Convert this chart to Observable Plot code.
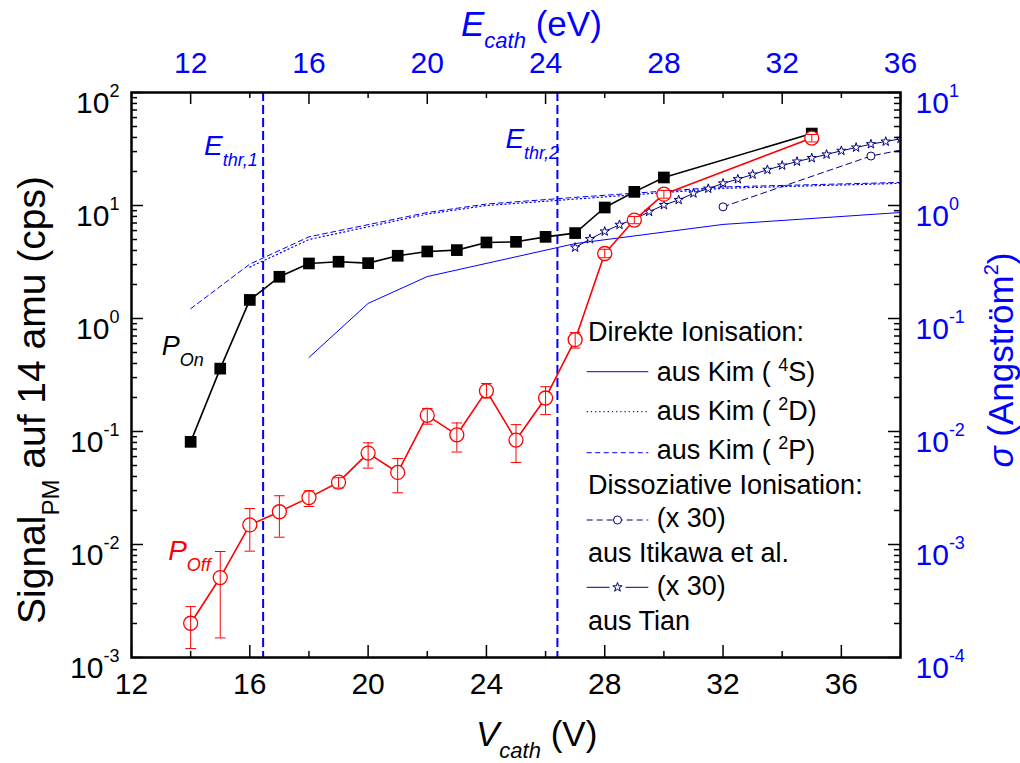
<!DOCTYPE html>
<html><head><meta charset="utf-8">
<script src="https://cdn.jsdelivr.net/npm/d3@7"></script>
<script src="https://cdn.jsdelivr.net/npm/@observablehq/plot@0.6"></script>
<style>
html,body{margin:0;padding:0;background:#fff;overflow:hidden;}
#chart svg{display:block;}
</style></head><body><div id="chart"></div>
<script>
// ---------- data ----------
const vOn   = [14,15,16,17,18,19,20,21,22,23,24,25,26,27,28,29,30,35];
const pOn   = [0.081,0.36,1.46,2.34,3.07,3.18,3.09,3.59,3.92,4.03,4.71,4.77,5.28,5.70,9.6,13.2,17.7,43.3];
const vOff  = [14,15,16,17,18,19,20,21,22,23,24,25,26,27,28,29,30,35];
const pOff  = [0.00201,0.0051,0.0149,0.0195,0.026,0.0356,0.0644,0.0434,0.139,0.0935,0.229,0.084,0.198,0.65,3.76,7.43,12.6,39.5];
const pOffLo= [0.0012,0.00149,0.00873,0.0116,0.0217,0.0316,0.0474,0.0287,0.116,0.0658,0.198,0.0532,0.141,0.547,3.45,6.9,11.6,36.5];
const pOffHi= [0.00282,0.00867,0.0208,0.027,0.0299,0.039,0.0794,0.0577,0.16,0.119,0.266,0.115,0.249,0.75,4.1,8.0,13.6,42.5];

// cross sections (Angström^2) vs electron energy E_cath (eV)
const eKim4S = [16,18,20,25,30,36];
const sKim4S = [0.0452,0.136,0.235,0.46,0.68,0.867];
const eKim2D = [14,16,20,22,25,30,36];
const sKim2D = [0.285,0.50,0.84,1.0,1.14,1.42,1.57];
const eKim2P = [12,14,16,20,22,25,30,36];
const sKim2P = [0.122,0.303,0.528,0.867,1.03,1.18,1.46,1.60];
const eItik  = [30,35,40];
const sItik  = [0.973,2.74,5.0];          // x 30
const eTian  = [25,25.5,26,26.5,27,27.5,28,28.5,29,29.5,30,30.5,31,31.5,32,32.5,33,33.5,34,34.5,35,35.5,36];
const sTian  = [0.425,0.504,0.589,0.675,0.758,0.880,1.01,1.12,1.28,1.41,1.57,1.71,1.88,2.07,2.26,2.45,2.63,2.83,3.05,3.26,3.49,3.68,3.89]; // x 30
const eThr   = [14.45, 24.4];

const xMajor = [12,16,20,24,28,32,36];
const xMinor = [14,18,22,26,30,34,38];
const eMajor = [12,16,20,24,28,32,36];
const eMinor = [10,14,18,22,26,30,34];
const yMajor = [1e-3,1e-2,1e-1,1,10,100];
const yMinor = [2e-3,3e-3,4e-3,5e-3,6e-3,7e-3,8e-3,9e-3,2e-2,3e-2,4e-2,5e-2,6e-2,7e-2,8e-2,9e-2,
                0.2,0.3,0.4,0.5,0.6,0.7,0.8,0.9,2,3,4,5,6,7,8,9,20,30,40,50,60,70,80,90];

// ---------- helpers ----------
const eOffset = 2;                 // V_cath = E_cath + 2
const sigmaFactor = 10;            // left scale = sigma * 10
const toV = e => e + eOffset;
const toLeft = s => s * sigmaFactor;

const on  = vOn.map((v,i)=>({v, p:pOn[i]}));
const off = vOff.map((v,i)=>({v, p:pOff[i], lo:pOffLo[i], hi:pOffHi[i]}));
const mk = (es, ss) => es.map((e,i)=>({v:toV(e), s:toLeft(ss[i])}));
const kim4S = mk(eKim4S,sKim4S), kim2D = mk(eKim2D,sKim2D), kim2P = mk(eKim2P,sKim2P);
const itik = mk(eItik,sItik), tian = mk(eTian,sTian);

const BLUE = "#0000ff", NAVY = "#00007f", RED = "#ff0000";
const W=1020, H=763, mL=131, mR=120, mT=92, mB=106;
const fH = H-mT-mB, fW = W-mL-mR;
const capSym = {draw(ctx,size){const r=Math.sqrt(size/Math.PI); ctx.moveTo(-r,0); ctx.lineTo(r,0);}};
const FONT = "'Liberation Sans', Arial, Helvetica, sans-serif";

const svg = Plot.plot({
  width:W, height:H, marginLeft:mL, marginRight:mR, marginTop:mT, marginBottom:mB,
  style:{fontFamily:FONT, fontSize:"30px", background:"white", color:"black", overflow:"visible"},
  x:{domain:[12,38]},
  y:{type:"log", domain:[1e-3,1e2]},
  marks:[
    Plot.ruleX(eThr, {x:toV, stroke:BLUE, strokeWidth:2, strokeDasharray:"9,4"}),
    Plot.line(kim4S, {x:"v", y:"s", stroke:BLUE, strokeWidth:1, clip:true}),
    Plot.line(kim2D, {x:"v", y:"s", stroke:BLUE, strokeWidth:1.2, strokeDasharray:"1.2,3", clip:true}),
    Plot.line(kim2P, {x:"v", y:"s", stroke:BLUE, strokeWidth:1, strokeDasharray:"5,3.5", clip:true}),
    Plot.line(itik, {x:"v", y:"s", stroke:NAVY, strokeWidth:1, strokeDasharray:"6,4", clip:true}),
    Plot.dot(itik, {x:"v", y:"s", r:4, stroke:NAVY, strokeWidth:1, fill:"white", clip:true}),
    Plot.line(tian, {x:"v", y:"s", stroke:NAVY, strokeWidth:1, clip:true}),
    Plot.dot(tian, {x:"v", y:"s", symbol:"star", r:2.9, stroke:NAVY, strokeWidth:1, fill:"white", clip:true}),
    Plot.line(on, {x:"v", y:"p", stroke:"black", strokeWidth:1.6}),
    Plot.dot(on, {x:"v", y:"p", symbol:"square", r:6.6, fill:"black", stroke:"none"}),
    Plot.line(off, {x:"v", y:"p", stroke:RED, strokeWidth:1.6}),
    Plot.dot(off, {x:"v", y:"p", r:7, stroke:RED, strokeWidth:1.3, fill:"white"}),
    Plot.ruleX(off, {x:"v", y1:"lo", y2:"hi", stroke:RED, strokeWidth:1}),
    Plot.dot(off, {x:"v", y:"lo", symbol:capSym, r:5.3, stroke:RED, strokeWidth:1, fill:"none"}),
    Plot.dot(off, {x:"v", y:"hi", symbol:capSym, r:5.3, stroke:RED, strokeWidth:1, fill:"none"}),
    // inward ticks
    Plot.tickX(xMajor, {x:d=>d, insetTop:fH-12, stroke:"black", strokeWidth:1.5}),
    Plot.tickX(xMinor, {x:d=>d, insetTop:fH-6, stroke:"black", strokeWidth:1.5}),
    Plot.tickX(eMajor, {x:toV, insetBottom:fH-12, stroke:"black", strokeWidth:1.5}),
    Plot.tickX(eMinor, {x:toV, insetBottom:fH-6, stroke:"black", strokeWidth:1.5}),
    Plot.tickY(yMajor, {y:d=>d, insetRight:fW-12, stroke:"black", strokeWidth:1.5}),
    Plot.tickY(yMinor, {y:d=>d, insetRight:fW-6, stroke:"black", strokeWidth:1.5}),
    Plot.tickY(yMajor, {y:d=>d, insetLeft:fW-12, stroke:"black", strokeWidth:1.5}),
    Plot.tickY(yMinor, {y:d=>d, insetLeft:fW-6, stroke:"black", strokeWidth:1.5}),
    // axis labels
    Plot.axisX({anchor:"bottom", ticks:xMajor, tickSize:0, tickPadding:15, label:null, fontSize:30}),
    Plot.axisX({anchor:"top", ticks:eMajor.map(toV), tickFormat:v=>String(v-eOffset), tickSize:0, tickPadding:20, label:null, fontSize:30, fill:BLUE}),
    Plot.axisY({anchor:"left", ticks:yMajor, tickSize:0, tickPadding:12, label:null, fontSize:30,
                tickFormat:d=>"10^"+Math.round(Math.log10(d))}),
    Plot.axisY({anchor:"right", ticks:yMajor, tickSize:0, tickPadding:15, label:null, fontSize:30, fill:BLUE,
                tickFormat:d=>"10^"+(Math.round(Math.log10(d))-Math.log10(sigmaFactor))}),
    Plot.frame({stroke:"black", strokeWidth:2.5})
  ]
});
document.getElementById("chart").appendChild(svg);

const S = d3.select(svg);
// superscripts on log tick labels
S.selectAll("text").each(function(){
  const m = /^10\^(-?\d+)$/.exec(this.textContent);
  if(!m) return;
  this.textContent = "";
  const t = d3.select(this);
  t.attr("dy", null).attr("transform", (t.attr("transform")||"") + " translate(0,11)");
  t.append("tspan").text("10");
  t.append("tspan").attr("dy", -16.5).attr("font-size", 18).text(m[1]);
});

const X = v => svg.scale("x").apply(v);

function rich(g, {x, y, size, fill="black", anchor="start", rotate=0}, parts){
  const t = g.append("text").attr("x",x).attr("y",y).attr("font-size",size)
    .attr("fill",fill).attr("text-anchor",anchor).attr("font-family",FONT);
  if(rotate) t.attr("transform",`rotate(${rotate},${x},${y})`);
  let shift = 0;
  for(const p of parts){
    const target = p.shift || 0;
    const ts = t.append("tspan").attr("dy", target-shift).text(p.t);
    if(p.size) ts.attr("font-size", p.size);
    if(p.i) ts.attr("font-style","italic");
    shift = target;
  }
  return t;
}
const G = S.append("g");

// axis titles
rich(G, {x:476, y:746, size:35}, [{t:"V",i:1},{t:"cath",i:1,size:22,shift:12},{t:" (V)"}]);
rich(G, {x:461, y:36, size:35, fill:BLUE}, [{t:"E",i:1},{t:"cath",i:1,size:22,shift:12},{t:" (eV)"}]);
rich(G, {x:45, y:400, size:39, anchor:"middle", rotate:-90}, [{t:"Signal"},{t:"PM",size:24,shift:14},{t:" auf 14 amu (cps)"}]);
rich(G, {x:1013, y:360, size:35, fill:BLUE, anchor:"middle", rotate:-90}, [{t:"σ",i:1},{t:" (Angström"},{t:"2",size:20,shift:-15},{t:")"}]);

// threshold labels
rich(G, {x:X(toV(eThr[0]))-58.5, y:155, size:28, fill:BLUE}, [{t:"E",i:1},{t:"thr,1",i:1,size:18,shift:11}]);
rich(G, {x:X(toV(eThr[1]))-51.5, y:148, size:28, fill:BLUE}, [{t:"E",i:1},{t:"thr,2",i:1,size:18,shift:11}]);
// series labels
rich(G, {x:X(vOn[0])-28.5, y:355, size:27}, [{t:"P",i:1},{t:"On",i:1,size:18,shift:11}]);
rich(G, {x:X(vOff[0])-22, y:560, size:28, fill:RED}, [{t:"P",i:1},{t:"Off",i:1,size:18,shift:11}]);

// legend
const L = G.append("g").attr("font-family",FONT);
const lx0 = 586.7, lx1 = 648.3, tx = 656.7, hx = 588, LF = 27;
const line = (y, stroke, dash, w=1) => L.append("line").attr("x1",lx0).attr("x2",lx1).attr("y1",y).attr("y2",y)
   .attr("stroke",stroke).attr("stroke-width",w).attr("stroke-dasharray",dash||null);
rich(L, {x:hx, y:340.7, size:LF}, [{t:"Direkte Ionisation:"}]);
line(371.7, BLUE, null);
rich(L, {x:tx, y:381, size:LF}, [{t:"aus Kim ( "},{t:"4",size:18,shift:-10},{t:"S)"}]);
line(411.7, BLUE, "1.2,3", 1.2);
rich(L, {x:tx, y:420, size:LF}, [{t:"aus Kim ( "},{t:"2",size:18,shift:-10},{t:"D)"}]);
line(452.7, BLUE, "5,3.5");
rich(L, {x:tx, y:459.3, size:LF}, [{t:"aus Kim ( "},{t:"2",size:18,shift:-10},{t:"P)"}]);
rich(L, {x:hx, y:494, size:LF}, [{t:"Dissoziative Ionisation:"}]);
line(520, NAVY, "6,4");
L.append("circle").attr("cx",(lx0+lx1)/2).attr("cy",520).attr("r",4).attr("fill","white").attr("stroke",NAVY);
rich(L, {x:tx, y:526.7, size:LF}, [{t:"(x 30)"}]);
rich(L, {x:hx, y:561.7, size:LF}, [{t:"aus Itikawa et al."}]);
line(587.3, NAVY, null);
L.append("rect").attr("x",(lx0+lx1)/2-8).attr("y",579).attr("width",16).attr("height",16).attr("fill","white");
L.append("path").attr("d", d3.symbol(d3.symbolStar, 2.9*2.9*Math.PI)()).attr("transform",`translate(${(lx0+lx1)/2},587.3)`)
  .attr("fill","white").attr("stroke",NAVY);
rich(L, {x:tx, y:595, size:LF}, [{t:"(x 30)"}]);
rich(L, {x:hx, y:630, size:LF}, [{t:"aus Tian"}]);
</script>
</body></html>
